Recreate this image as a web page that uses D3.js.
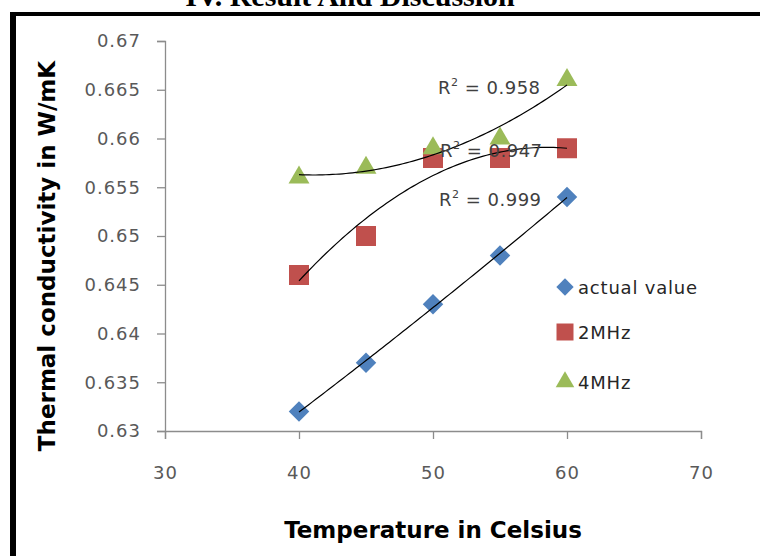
<!DOCTYPE html>
<html>
<head>
<meta charset="utf-8">
<script src="https://cdn.jsdelivr.net/npm/d3@7"></script>
<style>
  body { margin: 0; background: #fff; }
  svg { display: block; }
</style>
</head>
<body>
<svg id="chart" width="760" height="556"></svg>
<script>
// data
const temperatures = [40, 45, 50, 55, 60];
const actualValue = [0.632, 0.637, 0.643, 0.648, 0.654];
const twoMHz = [0.646, 0.650, 0.658, 0.658, 0.659];
const fourMHz = [0.656, 0.657, 0.659, 0.660, 0.666];
const seriesNames = ["actual value", "2MHz", "4MHz"];
const r2Labels = ["0.999", "0.947", "0.958"];
const xTicks = [30, 40, 50, 60, 70];
const yTicks = [0.63, 0.635, 0.64, 0.645, 0.65, 0.655, 0.66, 0.665, 0.67];
const yTickLabels = ["0.63", "0.635", "0.64", "0.645", "0.65", "0.655", "0.66", "0.665", "0.67"];

const svg = d3.select("#chart");
const tickFont = "DejaVu Sans";
const labelColor = "#595959";
const axisColor = "#8c8c8c";

const x = d3.scaleLinear().domain([30, 70]).range([165, 701]);
const y = d3.scaleLinear().domain([0.63, 0.67]).range([431, 41]);

// page decoration: heading cut off at the top and black frame
svg.append("text")
    .attr("x", 350).attr("y", 6)
    .attr("text-anchor", "middle")
    .attr("font-family", "Liberation Serif").attr("font-weight", "bold")
    .attr("font-size", 30)
    .text("IV. Result And Discussion");
svg.append("rect").attr("x", 10).attr("y", 12).attr("width", 750).attr("height", 4).attr("fill", "#000");
svg.append("rect").attr("x", 10).attr("y", 12).attr("width", 6).attr("height", 544).attr("fill", "#000");

// axes
const yAxis = svg.append("g")
    .attr("transform", "translate(" + x(30) + ",0)")
    .call(d3.axisLeft(y).tickValues(yTicks).tickSize(8).tickPadding(16)
        .tickFormat((d, i) => yTickLabels[i]));
const xAxis = svg.append("g")
    .attr("transform", "translate(0," + y(0.63) + ")")
    .call(d3.axisBottom(x).tickValues(xTicks).tickSize(8).tickPadding(27)
        .tickFormat(d => d));

[xAxis, yAxis].forEach(g => {
    g.select(".domain").attr("stroke", axisColor).attr("stroke-width", 1.3);
    g.selectAll(".tick line").attr("stroke", axisColor).attr("stroke-width", 1.3);
    g.selectAll(".tick text")
        .attr("fill", labelColor)
        .attr("font-family", tickFont)
        .attr("font-size", 18)
        .attr("letter-spacing", 1);
});

// axis titles
svg.append("text")
    .attr("transform", "translate(55,256) rotate(-90)")
    .attr("text-anchor", "middle")
    .attr("font-family", "DejaVu Sans").attr("font-weight", "bold")
    .attr("font-size", 23)
    .text("Thermal conductivity in W/mK");
svg.append("text")
    .attr("x", 433).attr("y", 538)
    .attr("text-anchor", "middle")
    .attr("font-family", "DejaVu Sans").attr("font-weight", "bold")
    .attr("font-size", 23)
    .text("Temperature in Celsius");

// second order polynomial least squares, like the spreadsheet trendline
function polyFit2(xs, ys) {
    const m = [[0, 0, 0, 0], [0, 0, 0, 0], [0, 0, 0, 0]];
    for (let k = 0; k < xs.length; k++) {
        const t = xs[k] - 50;
        const p = [1, t, t * t];
        for (let i = 0; i < 3; i++) {
            for (let j = 0; j < 3; j++) m[i][j] += p[i] * p[j];
            m[i][3] += p[i] * ys[k];
        }
    }
    for (let i = 0; i < 3; i++) {
        for (let r = i + 1; r < 3; r++) {
            const f = m[r][i] / m[i][i];
            for (let c = i; c < 4; c++) m[r][c] -= f * m[i][c];
        }
    }
    const coef = [0, 0, 0];
    for (let i = 2; i >= 0; i--) {
        let s = m[i][3];
        for (let j = i + 1; j < 3; j++) s -= m[i][j] * coef[j];
        coef[i] = s / m[i][i];
    }
    return v => {
        const t = v - 50;
        return coef[0] + coef[1] * t + coef[2] * t * t;
    };
}

const series = [
    {name: seriesNames[0], values: actualValue, color: "#4F81BD", shape: "diamond"},
    {name: seriesNames[1], values: twoMHz, color: "#C0504D", shape: "square"},
    {name: seriesNames[2], values: fourMHz, color: "#9BBB59", shape: "triangle"}
];

function markerPath(shape, big) {
    if (shape === "square") return d3.symbol(d3.symbolSquare, big ? 400 : 289)();
    if (shape === "diamond") return d3.symbol(d3.symbolSquare, big ? 210 : 150)();
    return d3.symbol(d3.symbolTriangle, big ? 190 : 150)();
}

// markers
series.forEach(s => {
    svg.append("g")
        .selectAll("path")
        .data(temperatures)
        .enter()
        .append("path")
        .attr("d", markerPath(s.shape, true))
        .attr("fill", s.color)
        .attr("transform", (d, i) => "translate(" + x(d) + "," + y(s.values[i]) + ")" +
            (s.shape === "diamond" ? " rotate(45)" : ""));
});

// trendlines
const sampleX = d3.range(40, 60.01, 0.25);
series.forEach(s => {
    const fit = polyFit2(temperatures, s.values);
    svg.append("path")
        .datum(sampleX)
        .attr("fill", "none")
        .attr("stroke", "#000")
        .attr("stroke-width", 1.2)
        .attr("d", d3.line().x(d => x(d)).y(d => y(fit(d))));
});

// R squared labels
const r2Pos = [[439, 206], [440, 157], [438, 94]];
r2Labels.forEach((v, i) => {
    const t = svg.append("text")
        .attr("x", r2Pos[i][0]).attr("y", r2Pos[i][1])
        .attr("font-family", tickFont).attr("font-size", 18)
        .attr("letter-spacing", 0.5)
        .attr("fill", "#404040");
    t.append("tspan").text("R");
    t.append("tspan").attr("font-size", 11).attr("dy", -8).text("2");
    t.append("tspan").attr("dy", 8).text(" = " + v);
});

// legend
const legendY = [287, 332, 382];
series.forEach((s, i) => {
    svg.append("path")
        .attr("d", markerPath(s.shape, false))
        .attr("fill", s.color)
        .attr("transform", "translate(565," + legendY[i] + ")" + (s.shape === "diamond" ? " rotate(45)" : ""));
    svg.append("text")
        .attr("x", 578).attr("y", legendY[i] + 7)
        .attr("font-family", tickFont).attr("font-size", 18)
        .attr("letter-spacing", 0.8)
        .attr("fill", "#262626")
        .text(s.name);
});
</script>
</body>
</html>
